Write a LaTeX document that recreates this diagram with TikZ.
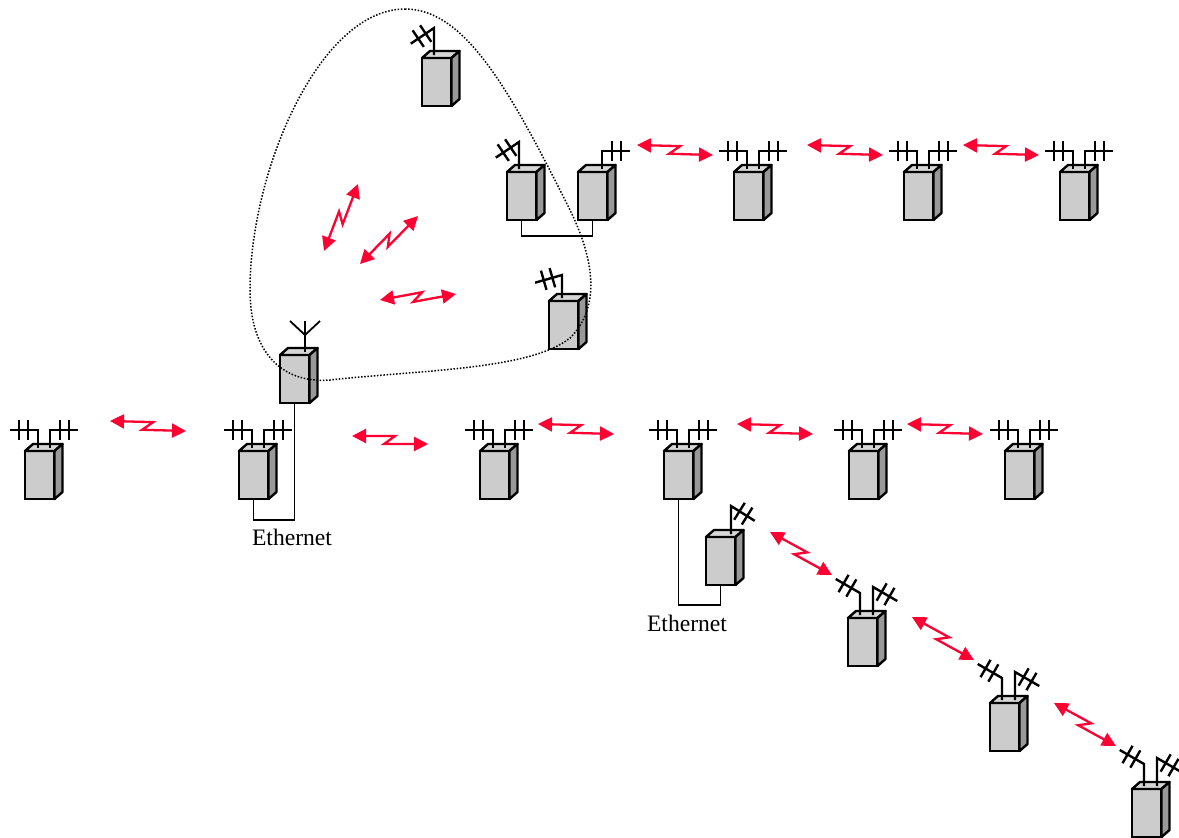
\documentclass[tikz,border=0pt]{standalone}
\usepackage{fontspec}
\setmainfont{Liberation Serif}
\usetikzlibrary{calc, arrows.meta}

\definecolor{boxfront}{HTML}{CCCCCC}
\definecolor{boxtop}{HTML}{D6D6D6}
\definecolor{boxside}{HTML}{999999}
\definecolor{radiored}{HTML}{FF0033}

\tikzset{
    box/.style={draw, line width=2.4pt, fill=boxfront, rectangle, anchor=north west, inner sep=0pt, outer sep=0pt, minimum width=29.5pt, minimum height=48pt},
    boxface/.style={draw, line width=2.4pt, line join=round},
    mastline/.style={draw, line width=2.4pt},
    wire/.style={draw, line width=1.3pt},
    radio/.style={radiored, line width=2.3pt, {Triangle[length=14pt, width=14pt]}-{Triangle[length=14pt, width=14pt]}},
    label/.style={font=\fontsize{23.6}{28}\selectfont, inner sep=0pt}
}

% device: name, x, y of the front face
\newcommand{\device}[3]{
    \node[box] at (#2, #3) (#1) {};
    \draw[boxface, fill=boxtop] (#1.north west) -- ++(8, -7) -- ++(29.5, 0) -- ($(#1.north east)$) -- cycle;
    \draw[boxface, fill=boxside] (#1.north east) -- ++(8, -7) -- ++(0, 48) -- (#1.south east) -- cycle;
}
% mast: device, x offset, height, angle of the arm
\newcommand{\mast}[4]{
    \begin{scope}[shift={(#1.north west)}]
        \draw[mastline] (#2, -3) -- (#2, -#3) coordinate (tip) -- ++(#4:28);
        \draw[mastline] (tip) ++(#4:10) ++(#4+90:10) -- ++(#4+90:-20);
        \draw[mastline] (tip) ++(#4:19) ++(#4+90:10) -- ++(#4+90:-20);
    \end{scope}
}
% twin: device with two level masts
\newcommand{\twin}[3]{
    \device{#1}{#2}{#3}
    \mast{#1}{13}{21}{180}
    \mast{#1}{25}{21}{0}
}
% hop: the zigzag radio arrow between two free ends
\newcommand{\hop}[3]{
    \coordinate (#1a) at (#2);
    \coordinate (#1b) at (#3);
    \draw[radio] (#1a) -- ($(#1a)!.56!(#1b)!4.5pt!90:(#1b)$) -- ($(#1a)!.43!(#1b)!4.5pt!-90:(#1b)$) -- (#1b);
}

\begin{document}
\begin{tikzpicture}[x=1pt, y=-1pt]
    \useasboundingbox (0, 0) rectangle (1179, 838);

    % cell around the base station
    \device{cellA}{422}{58}
    \mast{cellA}{12}{30}{146}
    \device{cellB}{507}{172}
    \mast{cellB}{12}{30}{146}
    \device{cellC}{549}{301}
    \mast{cellC}{13}{26}{164}
    \device{bridge}{578}{172}
    \mast{bridge}{24}{21}{0}
    \draw[wire] (cellB.south) -- ++(0, 16) -| (bridge.south);

    % top row
    \twin{topA}{734}{172}
    \twin{topB}{904}{172}
    \twin{topC}{1060}{172}

    % base station
    \device{base}{280}{355}
    \draw[mastline] ($(base.north west)+(25, -3)$) -- ($(base.north west)+(25, -34)$);
    \draw[mastline, line width=1.8pt] ($(base.north west)+(10, -34)$) -- ($(base.north west)+(25, -20)$) -- ($(base.north west)+(40, -34)$);

    % middle row
    \twin{rowA}{25}{451}
    \twin{rowB}{239}{451}
    \twin{rowC}{480}{451}
    \twin{rowD}{664}{451}
    \twin{rowE}{849}{451}
    \twin{rowF}{1005}{451}

    \draw[wire] (rowB.south) -- ++(0, 21) -| (base.south);
    \node[label] at (292, 537) (ethA) {Ethernet};

    % branch down to the right
    \device{gate}{706}{537}
    \mast{gate}{25}{31}{32}
    \draw[wire] (rowD.south) -- ++(0, 106) -| (gate.south);
    \node[label] at (687, 623) (ethB) {Ethernet};

    \device{diagA}{848}{618}
    \mast{diagA}{12}{25}{210}
    \mast{diagA}{25}{31}{30}
    \device{diagB}{990}{703}
    \mast{diagB}{12}{25}{210}
    \mast{diagB}{25}{31}{30}
    \device{diagC}{1132}{789}
    \mast{diagC}{12}{25}{210}
    \mast{diagC}{25}{31}{30}

    % radio links
    \hop{topHopA}{637, 145}{713, 155}
    \hop{topHopB}{807, 145}{883, 155}
    \hop{topHopC}{963, 145}{1039, 155}
    \hop{cellHopA}{324, 251}{358, 184}
    \hop{cellHopB}{360, 264}{418, 216}
    \hop{cellHopC}{380, 300}{456, 294}
    \hop{rowHopA}{110, 421}{186, 431}
    \hop{rowHopB}{352, 436}{428, 444}
    \hop{rowHopC}{538, 424}{614, 434}
    \hop{rowHopD}{737, 424}{813, 434}
    \hop{rowHopE}{907, 424}{983, 434}
    \hop{diagHopA}{770, 532}{832, 575}
    \hop{diagHopB}{912, 617}{974, 660}
    \hop{diagHopC}{1054, 703}{1116, 746}

    % coverage of the base station
    \draw[line width=1.5pt, dash pattern=on 1.5pt off 1.7pt]
        (405, 9) .. controls (465, 9) and (510, 90) .. (570, 210)
        .. controls (592, 255) and (603, 305) .. (570, 338)
        .. controls (530, 370) and (420, 370) .. (330, 380)
        .. controls (280, 384) and (250, 350) .. (250, 290)
        .. controls (250, 170) and (320, 9) .. (405, 9);
\end{tikzpicture}
\end{document}
